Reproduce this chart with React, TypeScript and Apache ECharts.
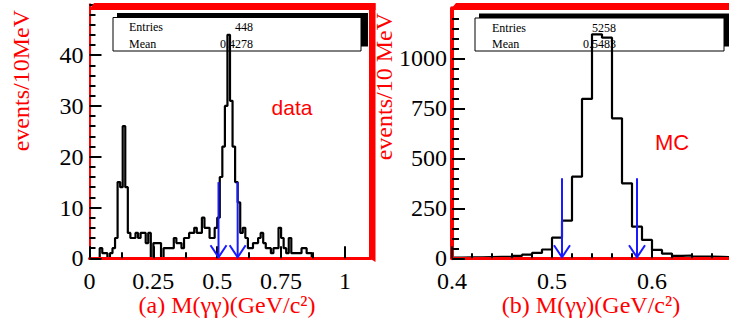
import React, { useEffect, useRef } from "react";
import * as echarts from "echarts";

// ---- data ----
// (a) data histogram: 10 MeV bins starting at 0.00 GeV
const dataBinStart = 0.0;
const dataBinWidth = 0.01;
const dataCounts = [
  0, 0, 0, 0, 2, 1, 1, 0, 1, 2,
  4, 15, 14, 26, 14, 5, 4, 4, 5, 4,
  5, 5, 3, 5, 0, 3, 3, 3, 0, 2,
  2, 2, 2, 4, 3, 3, 2, 4, 4, 5,
  5, 6, 5, 5, 8, 6, 6, 4, 4, 6,
  8, 16, 22, 30, 44, 31, 22, 15, 11, 5,
  6, 4, 2, 2, 3, 3, 4, 5, 3, 2,
  2, 1, 2, 2, 6, 4, 2, 1, 4, 1,
  1, 1, 1, 2, 2, 1, 1, 0, 0, 0,
  0, 0, 0, 0, 0, 0, 0, 0, 0, 0,
  0, 0, 0, 0, 0, 0, 0, 0, 0, 0,
];
// (b) MC histogram: 10 MeV bins starting at 0.40 GeV
const mcBinStart = 0.4;
const mcBinWidth = 0.01;
const mcCounts = [
  4, 5, 5, 6, 7, 8, 12, 18, 27, 44,
  103, 188, 408, 797, 1120, 1103, 700, 375, 158, 92,
  42, 23, 12, 14, 8, 8, 7, 6, 5, 5,
];
// cut arrows
const dataArrowX = [0.505, 0.58];
const dataArrowTop = 15;
const mcArrowX = [0.51, 0.585];
const mcArrowTop = 400;
// stats
const dataEntries = "448";
const dataMean = "0.4278";
const mcEntries = "5258";
const mcMean = "0.5483";
// axis ticks
const dataXTicks = { min: 0, max: 1.1, interval: 0.25 };
const dataYTicks = { min: 0, max: 50, interval: 10 };
const mcXTicks = { min: 0.4, max: 0.7, interval: 0.1 };
const mcYTicks = { min: 0, max: 1250, interval: 250 };

const SERIF = "'Liberation Serif', 'Times New Roman', serif";
const SANS = "'Liberation Sans', Arial, sans-serif";
const RED = "#ff0000";
const BLUE = "#1a1aff";

function histPoints(start: number, width: number, counts: number[]) {
  const pts: number[][] = [];
  for (let i = 0; i < counts.length; i++) {
    pts.push([+(start + i * width).toFixed(4), counts[i]]);
  }
  pts.push([+(start + counts.length * width).toFixed(4), counts[counts.length - 1]]);
  return pts;
}

function arrowRender(params: any, api: any) {
  const x = api.value(0);
  const top = api.value(1);
  const p0 = api.coord([x, top]);
  const p1 = api.coord([x, 0]);
  return {
    type: "group",
    children: [
      {
        type: "line",
        shape: { x1: p0[0], y1: p0[1], x2: p1[0], y2: p1[1] - 1 },
        style: { stroke: BLUE, lineWidth: 2 },
      },
      {
        type: "polyline",
        shape: {
          points: [
            [p1[0] - 8, p1[1] - 13],
            [p1[0], p1[1] - 1],
            [p1[0] + 8, p1[1] - 13],
          ],
        },
        style: { stroke: BLUE, lineWidth: 2, fill: "none" },
      },
    ],
  };
}

function xAxisCfg(grid: number, t: any, minorSplit: number, minorLen: number, fmtMax: number) {
  return {
    gridIndex: grid,
    type: "value",
    min: t.min,
    max: t.max,
    interval: t.interval,
    z: 10,
    axisLine: { show: true, onZero: false, lineStyle: { color: RED, width: 3 } },
    axisTick: { show: true, inside: true, length: 12, lineStyle: { color: "#000", width: 2 } },
    minorTick: { show: true, splitNumber: minorSplit, length: minorLen, lineStyle: { color: "#000", width: 2 } },
    splitLine: { show: false },
    minorSplitLine: { show: false },
    axisLabel: {
      margin: 11,
      fontFamily: SERIF,
      fontSize: 24,
      color: "#000",
      formatter: (v: number) => (v > fmtMax + 1e-9 ? "" : String(+v.toFixed(3))),
    },
  };
}

function yAxisCfg(grid: number, t: any, lineW: number, major: number, minor: number, margin: number) {
  return {
    gridIndex: grid,
    type: "value",
    min: t.min,
    max: t.max,
    interval: t.interval,
    z: 10,
    axisLine: { show: true, onZero: false, lineStyle: { color: RED, width: lineW } },
    axisTick: { show: true, inside: true, length: major, lineStyle: { color: "#000", width: 2 } },
    minorTick: { show: true, splitNumber: 5, length: minor, lineStyle: { color: "#000", width: 2 } },
    splitLine: { show: false },
    minorSplitLine: { show: false },
    axisLabel: {
      margin,
      fontFamily: SERIF,
      fontSize: 24,
      color: "#000",
      formatter: (v: number) => (v >= t.max ? "" : String(v)),
    },
  };
}

function statsBox(x: number, y: number, w: number, h: number, shadowW: number, labelX: number, valueX: number, entries: string, mean: string) {
  return [
    { type: "rect", z: 1, shape: { x: x + 4, y: y - 4.5, width: shadowW, height: h }, style: { fill: "#000" } },
    { type: "rect", z: 1, shape: { x, y, width: w, height: h }, style: { fill: "#fff", stroke: "#000", lineWidth: 1 } },
    { type: "text", z: 1, x: labelX, y: y + 9.5, style: { text: "Entries", fontFamily: SERIF, fontSize: 12, fill: "#000", align: "left", verticalAlign: "middle" } },
    { type: "text", z: 1, x: labelX, y: y + 26, style: { text: "Mean", fontFamily: SERIF, fontSize: 12, fill: "#000", align: "left", verticalAlign: "middle" } },
    { type: "text", z: 1, x: valueX, y: y + 9.5, style: { text: entries, fontFamily: SERIF, fontSize: 12, fill: "#000", align: "right", verticalAlign: "middle" } },
    { type: "text", z: 1, x: valueX, y: y + 26, style: { text: mean, fontFamily: SERIF, fontSize: 12, fill: "#000", align: "right", verticalAlign: "middle" } },
  ];
}

export default function App() {
  const ref = useRef<HTMLDivElement>(null);
  useEffect(() => {
    if (!ref.current) return;
    const chart = echarts.init(ref.current, null, { renderer: "svg" });
    const option: any = {
      animation: false,
      backgroundColor: "#ffffff",
      grid: [
        { left: 89.5, top: 4.3, width: 281, height: 254, containLabel: false, outerBoundsMode: "none" },
        { left: 452, top: 8.3, width: 300, height: 250, containLabel: false, outerBoundsMode: "none" },
      ],
      xAxis: [
        xAxisCfg(0, dataXTicks, 2, 6, 1.0),
        xAxisCfg(1, mcXTicks, 5, 5, 0.6),
      ],
      yAxis: [
        yAxisCfg(0, dataYTicks, 2, 12, 6, 6),
        yAxisCfg(1, mcYTicks, 4, 13, 7, 5),
      ],
      series: [
        {
          type: "line",
          xAxisIndex: 0,
          yAxisIndex: 0,
          step: "end",
          symbol: "none",
          z: 5,
          lineStyle: { color: "#000", width: 2.2 },
          data: histPoints(dataBinStart, dataBinWidth, dataCounts),
        },
        {
          type: "line",
          xAxisIndex: 1,
          yAxisIndex: 1,
          step: "end",
          symbol: "none",
          z: 5,
          lineStyle: { color: "#000", width: 2.2 },
          data: histPoints(mcBinStart, mcBinWidth, mcCounts),
        },
        {
          type: "custom",
          xAxisIndex: 0,
          yAxisIndex: 0,
          z: 20,
          renderItem: arrowRender,
          encode: { x: 0, y: 1 },
          data: dataArrowX.map((x) => [x, dataArrowTop]),
        },
        {
          type: "custom",
          xAxisIndex: 1,
          yAxisIndex: 1,
          z: 20,
          renderItem: arrowRender,
          encode: { x: 0, y: 1 },
          data: mcArrowX.map((x) => [x, mcArrowTop]),
        },
      ],
      graphic: {
        elements: [
          ...statsBox(113, 17.5, 248, 33.5, 251, 129, 253, dataEntries, dataMean),
          ...statsBox(475, 18, 249, 33, 260, 492, 616, mcEntries, mcMean),
          { type: "text", z: 30, x: 292, y: 107, style: { text: "data", fontFamily: SANS, fontSize: 21, fill: RED, align: "center", verticalAlign: "middle" } },
          { type: "text", z: 30, x: 672, y: 142, style: { text: "MC", fontFamily: SANS, fontSize: 22, fill: RED, align: "center", verticalAlign: "middle" } },
          { type: "text", z: 30, x: 21, y: 10, rotation: Math.PI / 2, style: { text: "events/10MeV", fontFamily: SERIF, fontSize: 24, fill: RED, align: "right", verticalAlign: "middle" } },
          { type: "text", z: 30, x: 384, y: 13, rotation: Math.PI / 2, style: { text: "events/10 MeV", fontFamily: SERIF, fontSize: 24, fill: RED, align: "right", verticalAlign: "middle" } },
          { type: "text", z: 30, x: 227, y: 305, style: { text: "(a) M(γγ)(GeV/c²)", fontFamily: SERIF, fontSize: 24, fill: RED, align: "center", verticalAlign: "middle" } },
          { type: "text", z: 30, x: 591, y: 305, style: { text: "(b) M(γγ)(GeV/c²)", fontFamily: SERIF, fontSize: 24, fill: RED, align: "center", verticalAlign: "middle" } },
          // red frame bands
          { type: "polygon", z: 50, shape: { points: [[89, 10], [94, 3], [375.5, 3], [375.5, 10]] }, style: { fill: RED } },
          { type: "polygon", z: 50, shape: { points: [[369, 9], [375.5, 3], [375.5, 262], [369, 258]] }, style: { fill: RED } },
          { type: "polygon", z: 50, shape: { points: [[450, 10], [456, 3], [729, 3], [729, 10]] }, style: { fill: RED } },
        ],
      },
    };
    chart.setOption(option);
    return () => chart.dispose();
  }, []);
  return (
    <div
      ref={ref}
      style={{ position: "absolute", left: 0, top: 0, width: 729, height: 323, background: "#fff" }}
    />
  );
}
